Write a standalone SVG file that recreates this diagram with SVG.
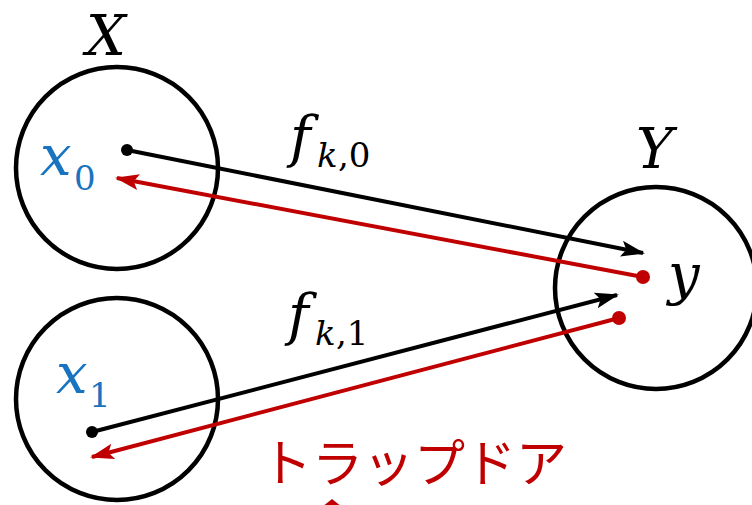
<svg xmlns="http://www.w3.org/2000/svg" width="752" height="505" viewBox="0 0 752 505">
<style>
.set{fill:none;stroke:#000;stroke-width:4.5}
.math{font-family:"DejaVu Serif","Liberation Serif",serif;font-style:italic}
.num{font-family:"DejaVu Serif","Liberation Serif",serif;font-style:normal}
.blue{fill:#1874C0}
.blk{stroke:#000;stroke-width:4;fill:none}
.red{stroke:#C00000;stroke-width:4;fill:none}
.jp{font-family:"Noto Sans CJK JP","Noto Sans",sans-serif;fill:#C00000}
</style>
<defs>
<marker id="ab" markerUnits="userSpaceOnUse" markerWidth="24" markerHeight="18" refX="22" refY="8" orient="auto" viewBox="0 0 24 16">
<path d="M0,0 L24,8 L0,16 L5,8 Z" fill="#000"/>
</marker>
<marker id="ar" markerUnits="userSpaceOnUse" markerWidth="24" markerHeight="18" refX="22" refY="8" orient="auto" viewBox="0 0 24 16">
<path d="M0,0 L24,8 L0,16 L5,8 Z" fill="#C00000"/>
</marker>
</defs>
<g id="setX">
<circle class="set" cx="117" cy="168" r="101"/>
<text class="math" x="86" y="55" font-size="56">X</text>
</g>
<g id="setX1">
<circle class="set" cx="117" cy="399" r="101"/>
</g>
<g id="setY">
<circle class="set" cx="656" cy="288" r="101"/>
<text class="math" x="636" y="168" font-size="56">Y</text>
<text class="math" x="668" y="294" font-size="56">y</text>
</g>
<g id="x0">
<circle cx="127" cy="150" r="6" fill="#000"/>
<text class="math blue" x="40" y="175" font-size="56">x</text>
<text class="num blue" x="74" y="190" font-size="34">0</text>
</g>
<g id="x1">
<circle cx="92" cy="432" r="6" fill="#000"/>
<text class="math blue" x="56" y="393" font-size="56">x</text>
<text class="num blue" x="89" y="407" font-size="34">1</text>
</g>
<g id="connectors">
<line class="blk" x1="127" y1="150" x2="643" y2="253" marker-end="url(#ab)"/>
<line class="red" x1="643" y1="277" x2="117" y2="178" marker-end="url(#ar)"/>
<circle cx="643" cy="277" r="7" fill="#C00000"/>
<line class="blk" x1="92" y1="432" x2="617" y2="295" marker-end="url(#ab)"/>
<line class="red" x1="619" y1="318" x2="92" y2="457" marker-end="url(#ar)"/>
<circle cx="619" cy="318" r="7" fill="#C00000"/>
</g>
<g id="label-f0">
<text class="math" x="290" y="156" font-size="56">f</text>
<text class="math" x="317" y="167" font-size="34">k</text>
<text class="num" x="338" y="167" font-size="34">,0</text>
</g>
<g id="label-f1">
<text class="math" x="288" y="334" font-size="56">f</text>
<text class="math" x="315" y="345" font-size="34">k</text>
<text class="num" x="336" y="345" font-size="34">,1</text>
</g>
<g id="trapdoor">
<text class="jp" x="261" y="482" font-size="51">トラップドア</text>
<polygon points="332,499 322,507 342,507" fill="#C00000"/>
</g>
</svg>
